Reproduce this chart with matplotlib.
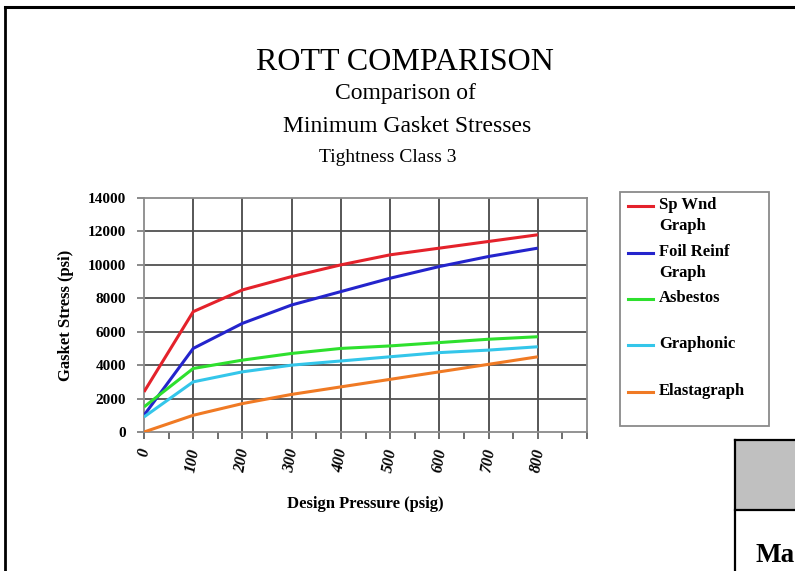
import matplotlib.pyplot as plt
from matplotlib.lines import Line2D
from matplotlib.patches import Rectangle

plt.rcParams.update({
    "font.family": "Liberation Serif",
})

W, H = 795, 571

# design pressure (psig)
pressure = [0, 100, 200, 300, 400, 500, 600, 700, 800]

# minimum gasket stress (psi)
sp_wnd_graph = [2400, 7200, 8500, 9300, 10000, 10600, 11000, 11400, 11800]
foil_reinf_graph = [1000, 5000, 6500, 7600, 8400, 9200, 9900, 10500, 11000]
asbestos = [1500, 3800, 4300, 4700, 5000, 5150, 5350, 5550, 5700]
graphonic = [900, 3000, 3600, 4000, 4250, 4500, 4750, 4900, 5100]
elastagraph = [0, 1000, 1700, 2250, 2700, 3150, 3600, 4050, 4500]

series_names = ["Sp Wnd\nGraph", "Foil Reinf\nGraph", "Asbestos", "Graphonic", "Elastagraph"]
series_values = [sp_wnd_graph, foil_reinf_graph, asbestos, graphonic, elastagraph]
series_colors = ["#e4222b", "#2424cc", "#2ee02e", "#34c6ea", "#f07a24"]

x_ticks = [0, 100, 200, 300, 400, 500, 600, 700, 800]
y_ticks = [0, 2000, 4000, 6000, 8000, 10000, 12000, 14000]


def fx(px):
    return px / W


def fy(py):
    return 1 - py / H


fig = plt.figure(figsize=(W / 100, H / 100), dpi=100)

# axes placed in pixel box (144,198)-(587,432)
ax = fig.add_axes([fx(144), fy(432), fx(587) - fx(144), fy(198) - fy(432)])

for vals, color in zip(series_values, series_colors):
    ax.plot(pressure, vals, color=color, lw=2.2, zorder=5, solid_capstyle='butt')

ax.set_xlim(0, 900)
ax.set_ylim(0, 14000)

ax.set_xticks(x_ticks + [900])
ax.set_xticklabels([str(t) for t in x_ticks] + [""], rotation=80,
                   fontweight='bold', fontstyle='italic', fontsize=11.5)
ax.set_xticks(list(range(50, 900, 100)), minor=True)
ax.set_yticks(y_ticks)
ax.set_yticklabels([str(t) for t in y_ticks], fontweight='bold', fontsize=11)

ax.tick_params(axis='x', which='both', direction='out', length=5, width=1.2,
               color='#555555', pad=6)
ax.tick_params(axis='y', direction='out', length=5, width=1.2, color='#777777', pad=8)

for xv in x_ticks[1:]:
    ax.axvline(xv, color='#3a3a3a', lw=1.2, zorder=1)
for yv in y_ticks[1:-1]:
    ax.axhline(yv, color='#505050', lw=1.3, zorder=1)

for side in ['top', 'right', 'left', 'bottom']:
    ax.spines[side].set_color('#8a8a8a')
    ax.spines[side].set_linewidth(1.3)

ax.set_ylabel("Gasket Stress (psi)", fontweight='bold', fontsize=12, labelpad=10)
ax.set_xlabel("Design Pressure (psig)", fontweight='bold', fontsize=12, labelpad=16)

# titles
fig.text(fx(405), fy(62), "ROTT COMPARISON", ha='center', va='center', fontsize=23)
fig.text(fx(405), fy(94), "Comparison of", ha='center', va='center', fontsize=17)
fig.text(fx(407), fy(126), "Minimum Gasket Stresses", ha='center', va='center', fontsize=17)
fig.text(fx(388), fy(158), "Tightness Class 3", ha='center', va='center', fontsize=14)

# legend box drawn by hand to follow the original layout
fig.add_artist(Rectangle((fx(620), fy(426)), fx(769) - fx(620), fy(192) - fy(426),
                         transform=fig.transFigure, fill=False, edgecolor='#8a8a8a', lw=1.3))
legend_rows = [206, 253, 299, 345, 392]
for name, color, row in zip(series_names, series_colors, legend_rows):
    fig.add_artist(Line2D([fx(628), fx(653)], [fy(row), fy(row)], color=color, lw=2.2,
                          transform=fig.transFigure))
    fig.text(fx(659), fy(row - 9), name, ha='left', va='top', fontsize=12,
             fontweight='bold', linespacing=1.45)

# page frame
fig.add_artist(Line2D([fx(5), fx(W)], [fy(6.5), fy(6.5)], color='black', lw=2.2,
                      transform=fig.transFigure))
fig.add_artist(Line2D([fx(5), fx(5)], [fy(6.5), fy(H)], color='black', lw=2.0,
                      transform=fig.transFigure))

# table cut off at the bottom right
fig.add_artist(Rectangle((fx(735), fy(510)), fx(W) - fx(735), fy(440) - fy(510),
                         transform=fig.transFigure, facecolor='#c0c0c0', edgecolor='none'))
fig.add_artist(Line2D([fx(735), fx(W)], [fy(440), fy(440)], color='black', lw=1.6,
                      transform=fig.transFigure))
fig.add_artist(Line2D([fx(735), fx(W)], [fy(510), fy(510)], color='black', lw=1.6,
                      transform=fig.transFigure))
fig.add_artist(Line2D([fx(735), fx(735)], [fy(440), fy(H)], color='black', lw=1.6,
                      transform=fig.transFigure))
fig.text(fx(756), fy(562), "Ma", ha='left', va='baseline', fontsize=19.5, fontweight='bold')

fig.savefig("out.png", dpi=100)
